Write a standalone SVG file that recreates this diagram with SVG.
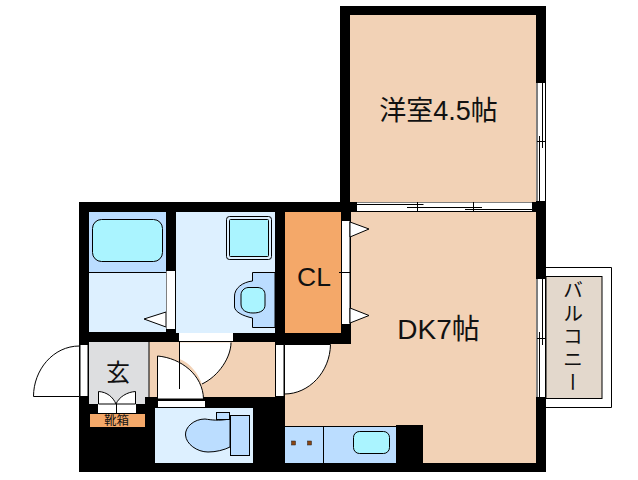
<svg xmlns="http://www.w3.org/2000/svg" width="638" height="480" viewBox="0 0 638 480">
<style>
.ln{fill:none;stroke:#000;stroke-width:1}
.lt{fill:#ddf0ff}
.md{fill:#bbddff}
.mdl{fill:#bbddff;stroke:#000;stroke-width:1}
.cy{fill:#aaf4ff;stroke:#000;stroke-width:1}
.wh{fill:#fff}
.wl{fill:#fff;stroke:#000;stroke-width:1}
.pe{fill:#f2d2b6}
.or{fill:#f4a869}
text{font-family:"Liberation Sans","Noto Sans CJK JP",sans-serif;fill:#111;text-anchor:middle}
.jp{font-family:"Noto Sans CJK JP",sans-serif}
</style>
<rect width="638" height="480" fill="#fff"/>
<path id="walls" d="M340 6H546V472H79V202H340Z" fill="#000"/>
<g id="room-western"><rect class="pe" x="350" y="15" width="186" height="187"/>
<text x="438.500" y="120" font-size="27">洋室4.5帖</text></g>
<g id="room-dk"><path class="pe" d="M351 212H536V463H423V425H396V426H285V344H351Z"/>
<text x="438.500" y="339" font-size="28">DK7帖</text></g>
<g id="room-closet"><rect class="or" x="285" y="212" width="56" height="121"/>
<text x="314" y="285.500" font-size="26.500">CL</text></g>
<g id="room-bath"><rect class="lt" x="89" y="212" width="77" height="120"/>
<rect class="md" x="89" y="212" width="77" height="60"/>
<path class="ln" d="M89 272.500H166"/>
<rect class="cy" x="92.500" y="219.500" width="70" height="42" rx="9"/>
<path class="wl" d="M144 319L166 312V327Z"/>
<rect class="wh" x="166.500" y="271" width="8.500" height="58"/></g>
<g id="room-wash"><rect class="lt" x="176" y="212" width="99" height="121"/>
<rect x="226.500" y="216.500" width="45" height="43" rx="3" fill="#ddf0ff" stroke="#000"/>
<rect class="cy" x="229.500" y="219.500" width="39" height="37" rx="1"/>
<path class="mdl" d="M275 272.500H252.500V281C243 282 234 288 234.500 297V307C235 312 243 316 252.500 318V327.500H275Z"/>
<path class="cy" d="M248 287.500H258C263 288 265 291 265 295V305C265 310 261 313 253 313C246 313 241 310 241 304V295C241 291 244 288 248 287.500Z"/>
<rect class="wh" x="179" y="333" width="54" height="8"/></g>
<g id="room-hall"><rect class="pe" x="149" y="342" width="126" height="55"/></g>
<g id="room-entry"><path fill="#dddee0" d="M89 342H149V397H145V404H89Z"/>
<path class="ln" d="M149 342V397"/>
<text x="118" y="381" font-size="24" class="jp">玄</text>
<rect class="wh" x="98" y="404" width="38" height="9"/>
<path class="wl" d="M98.500 404V391.500C107 392 113 397 116 404Z"/>
<path class="wl" d="M135.500 404V391.500C127 392 119 397 116 404Z"/>
<path class="ln" d="M116.500 404V413"/>
<rect class="or" x="90" y="414" width="55" height="13"/>
<text x="116.500" y="425" font-size="12.500" class="jp">靴箱</text></g>
<g id="room-toilet"><rect class="lt" x="155" y="408" width="98" height="55"/>
<path class="mdl" d="M230 419C218 421 212 420 205 419C194 419 185 427 185.500 435C186 444 197 452 208 452C216 452 224 450 230 447Z"/>
<rect class="mdl" x="216.500" y="412.500" width="13" height="7"/>
<rect class="mdl" x="230.500" y="415.500" width="19" height="40"/></g>
<g id="kitchen"><rect class="md" x="285" y="426" width="111" height="37"/>
<path class="ln" d="M285 426.500H396M323.500 426V463"/>
<rect class="cy" x="353.500" y="431.500" width="36" height="22" rx="6"/>
<rect x="291.500" y="441" width="4" height="4" fill="#8b4513" stroke="#222" stroke-width=".5"/>
<rect x="307.500" y="441" width="4" height="4" fill="#8b4513" stroke="#222" stroke-width=".5"/></g>
<g id="balcony"><path class="ln" d="M546 267.500H611.500V407.500H546"/>
<rect x="546" y="276.500" width="56" height="122" fill="#e3d8cc" stroke="#000" stroke-width="1"/>
<text x="573" y="338" font-size="20" letter-spacing="3" class="jp" style="writing-mode:vertical-rl">バルコニー</text></g>
<g id="connectors">
<rect class="wl" x="80" y="344.500" width="8" height="52"/>
<path class="wl" d="M33.500 396.500H79.500V346C53 346 33.500 370 33.500 396.500Z"/>
<path class="wl" d="M157.500 356C181 358 203 375 203.500 399H157.500Z"/>
<path class="wh" d="M179.500 342.500H231C231 357 219 376 202 384C198 373 190 363 179.500 359Z"/>
<path class="ln" d="M231 342.500C231 357 219 376 202 384M179.500 342V389"/>
<rect class="wl" x="157.500" y="400.500" width="48" height="7"/>
<rect class="wl" x="275.500" y="344.500" width="8.500" height="52"/>
<path class="wl" d="M284.500 344.500H330.500C330 372 309 394 284.500 394Z"/>
<rect class="wl" x="341.500" y="220.500" width="8.500" height="104"/>
<path class="ln" d="M339 272.500H350"/>
<path class="wl" d="M350 222L369 229L350 237Z"/>
<path class="wl" d="M350 308L369 315.500L350 323Z"/>
<rect class="wh" x="357" y="202.500" width="175" height="8.500"/>
<path class="ln" d="M357 204.500H423.500M407 207.500H482M465 209.500H532M417.500 202V211M473.500 202V211"/>
<rect class="wh" x="536" y="83" width="10" height="118"/>
<path class="ln" d="M537 83V201M545.500 83V201M539.500 136V201M542.500 83V148M537 141.500H546"/>
<rect class="wh" x="536" y="279" width="10" height="118"/>
<path class="ln" d="M537 279V397M545.500 279V397M539.500 332V397M542.500 279V345M537 338.500H546"/>
</g>
</svg>
